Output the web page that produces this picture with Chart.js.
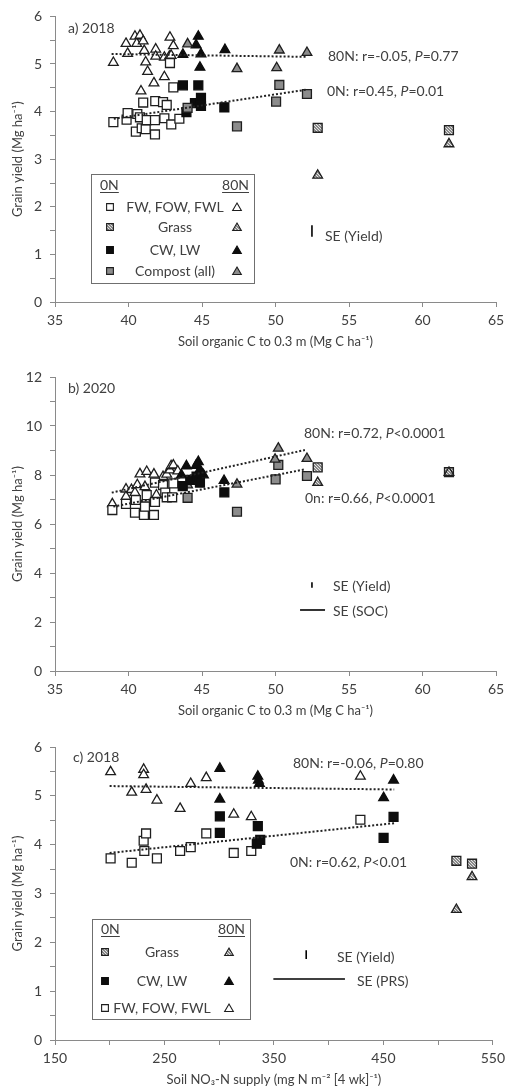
<!DOCTYPE html>
<html>
<head>
<meta charset="utf-8">
<script src="https://cdn.jsdelivr.net/npm/chart.js@4.4.1/dist/chart.umd.min.js"></script>
<style>
  html, body { margin: 0; padding: 0; background: #fff; }
  .panel { position: absolute; left: 0; width: 510px; }
</style>
</head>
<body>
<div class="panel" style="top:0;height:358px"><canvas id="chartA"></canvas></div>
<div class="panel" style="top:360px;height:361px"><canvas id="chartB"></canvas></div>
<div class="panel" style="top:722px;height:367px"><canvas id="chartC"></canvas></div>
<script>
// ---- data: [x, y] pairs ----
// a) 2018, yield vs SOC
const aFw0 = [[38.97,3.78],[39.87,3.83],[39.94,3.97],[40.5,3.58],[40.6,3.95],[40.78,3.88],[40.9,3.65],[41.0,4.19],[41.17,3.63],[41.24,3.82],[41.8,3.52],[41.8,3.82],[41.82,4.22],[42.35,4.2],[42.6,4.14],[42.44,3.86],[42.91,3.73],[43.46,3.85],[43.05,4.51],[42.82,5.02]];
const aFw80 = [[38.97,5.03],[39.83,5.43],[39.94,5.22],[40.44,5.58],[40.56,5.43],[40.78,5.6],[41.0,5.48],[41.07,5.28],[41.17,5.04],[41.3,4.84],[40.85,4.43],[41.73,4.6],[41.85,5.31],[41.85,5.16],[42.44,4.73],[42.82,5.56],[43.05,5.38],[42.44,5.14],[42.78,5.16],[42.9,5.18]];
const aCw0 = [[43.7,4.55],[44.75,4.55],[43.94,3.99],[44.52,4.18],[44.93,4.29],[44.93,4.12],[46.52,4.09]];
const aCw80 = [[43.7,5.2],[44.6,5.4],[44.75,5.58],[44.93,5.21],[44.86,4.93],[46.56,5.3]];
const aComp0 = [[44.02,4.08],[47.38,3.69],[50.26,4.56],[50.04,4.21],[52.14,4.37]];
const aComp80 = [[44.02,5.42],[47.38,4.9],[50.26,5.29],[50.08,4.92],[52.14,5.24]];
const aGrass0 = [[52.87,3.66],[61.8,3.61]];
const aGrass80 = [[52.87,2.66],[61.8,3.32]];
const aTrend80 = [[38.85,5.21],[52.1,5.15]];
const aTrend0 = [[39.0,3.85],[52.1,4.46]];
const aSeYield = [[52.48,1.37],[52.48,1.61]];

// b) 2020, yield vs SOC
const bFw0 = [[38.9,6.57],[39.83,6.82],[40.44,6.46],[40.5,6.98],[41.05,6.37],[41.73,6.37],[41.12,6.71],[41.24,7.18],[41.8,7.69],[41.8,6.9],[42.35,7.59],[42.5,7.28],[42.6,7.09],[42.97,7.09],[43.05,7.66]];
const bFw80 = [[38.9,6.82],[39.83,7.42],[39.83,7.12],[40.2,7.4],[40.44,7.28],[40.6,7.6],[40.78,8.04],[41.12,7.52],[41.17,7.01],[41.24,8.14],[41.73,8.03],[41.9,7.18],[42.35,7.93],[42.6,8.03],[42.82,8.2],[42.9,8.37],[43.05,8.4],[43.35,8.16]];
const bCw0 = [[43.69,7.55],[44.2,7.8],[44.63,7.93],[44.86,7.69],[46.52,7.29]];
const bCw80 = [[43.6,8.0],[43.94,8.37],[44.6,8.39],[44.75,8.54],[44.86,8.22],[45.1,8.0],[46.5,7.77]];
const bComp0 = [[44.02,7.07],[47.38,6.5],[50.19,8.41],[50.01,7.82],[52.14,7.96]];
const bComp80 = [[44.02,7.59],[47.38,7.62],[50.19,9.09],[49.97,8.64],[52.14,8.67]];
const bGrass0 = [[52.87,8.31],[61.8,8.12]];
const bGrass80 = [[52.87,7.69],[61.8,8.1]];
const bTrend80 = [[38.86,7.28],[52.0,9.02]];
const bTrend0 = [[38.97,6.71],[52.0,8.23]];
const bSeYield = [[52.48,3.4],[52.48,3.62]];
const bSeSoc = [[51.67,2.49],[53.37,2.49]];

// c) 2018, yield vs soil NO3-N supply
const cFw0 = [[200.8,3.72],[220.1,3.63],[231.0,4.08],[231.6,3.87],[233.2,4.23],[243.1,3.72],[264.3,3.87],[274.0,3.95],[288.2,4.23],[313.3,3.83],[329.3,3.87],[429.0,4.51]];
const cFw80 = [[200.8,5.49],[220.1,5.07],[231.0,5.54],[231.0,5.43],[233.2,5.13],[243.1,4.91],[264.3,4.74],[274.0,5.25],[288.2,5.37],[313.3,4.62],[329.3,4.57],[429.0,5.4]];
const cCw0 = [[300.6,4.58],[300.6,4.24],[335.3,4.38],[334.4,4.02],[337.5,4.1],[450.2,4.14],[459.3,4.57]];
const cCw80 = [[300.6,5.56],[300.6,4.93],[335.3,5.4],[335.8,5.32],[336.8,5.25],[450.2,4.96],[459.3,5.32]];
const cGrass0 = [[516.7,3.67],[531.0,3.61]];
const cGrass80 = [[531.0,3.34],[516.7,2.67]];
const cTrend80 = [[199.9,5.2],[459.9,5.13]];
const cTrend0 = [[199.9,3.83],[459.9,4.44]];
const cSeYield = [[379.5,1.66],[379.5,1.84]];
const cSePrs = [[349.5,1.25],[414.9,1.25]];

// axis ranges / tick steps
const socRange = [35, 65];
const prsRange = [150, 550];
const yieldRange2018 = [0, 6];
const yieldRange2020 = [0, 12];

// text
const yTitle = 'Grain yield (Mg ha\u207B\u00B9)';
const socTitle = 'Soil organic C to 0.3 m (Mg C ha\u207B\u00B9)';
const prsTitle = 'Soil NO\u2083-N supply (mg N m\u207B\u00B2 [4 wk]\u207B\u00B9)';

// ---- styles ----
const FAMILY = 'Lato, "Open Sans", sans-serif';
const TXT = '#404040';
const AXIS = '#8a8a8a';
const EDGE = '#1e1e1e';

function makeHatch() {
  const c = document.createElement('canvas');
  c.width = 3; c.height = 3;
  const g = c.getContext('2d');
  g.fillStyle = '#8a8a8a'; g.fillRect(0, 0, 3, 3);
  g.fillStyle = '#e4e4e4';
  g.fillRect(0, 0, 1, 1); g.fillRect(1, 1, 1, 1); g.fillRect(2, 2, 1, 1);
  return g.createPattern(c, 'repeat');
}
const hatch = makeHatch();

const OPEN = { fill: '#fff', stroke: EDGE };
const BLACK = { fill: '#0d0d0d', stroke: '#0d0d0d' };
const GRAY = { fill: '#8c8c8c', stroke: EDGE };
const GRASS = { fill: hatch, stroke: EDGE };

const pts = arr => arr.map(([x, y]) => ({ x, y }));

function markers(arr, shape, st) {
  return {
    data: pts(arr),
    pointStyle: shape,
    pointRadius: shape === 'rect' ? 6.3 : 5.6,
    pointHoverRadius: 6,
    backgroundColor: st.fill,
    borderColor: st.stroke,
    borderWidth: 1.3,
    showLine: false,
  };
}

function line(arr, dotted) {
  return {
    data: pts(arr),
    showLine: true,
    pointRadius: 0,
    borderColor: dotted ? '#222' : '#000',
    borderWidth: dotted ? 2 : 1.6,
    borderDash: dotted ? [2, 2] : [],
    fill: false,
  };
}

// text with *italic* segments
function drawRich(ctx, str, x, y, size) {
  const parts = str.split('*');
  ctx.textAlign = 'left';
  parts.forEach((p, i) => {
    ctx.font = (i % 2 ? 'italic ' : '') + size + 'px ' + FAMILY;
    ctx.fillText(p, x, y);
    x += ctx.measureText(p).width;
  });
}

function legendMarker(ctx, shape, st, x, y) {
  ctx.fillStyle = st.fill;
  ctx.strokeStyle = st.stroke;
  ctx.lineWidth = 1.1;
  Chart.helpers.drawPoint(ctx, { pointStyle: shape, radius: shape === 'rect' ? 4.8 : 5, rotation: 0, borderWidth: 1.1 }, x, y);
}

function drawLegend(ctx, lg, ca) {
  const x0 = Math.round(ca.left + lg.dx), y0 = Math.round(ca.top + lg.dy);
  ctx.strokeStyle = '#6f6f6f';
  ctx.lineWidth = 1;
  ctx.strokeRect(x0 + 0.5, y0 + 0.5, lg.w, lg.h);

  ctx.fillStyle = TXT;
  ctx.font = '14px ' + FAMILY;
  ctx.textBaseline = 'middle';
  ctx.textAlign = 'left';
  ctx.fillText('0N', x0 + 9, y0 + lg.headY);
  let w = ctx.measureText('0N').width;
  ctx.fillRect(x0 + 9, y0 + lg.headY + 7, w, 1);
  ctx.textAlign = 'right';
  ctx.fillText('80N', x0 + lg.w - 5, y0 + lg.headY);
  w = ctx.measureText('80N').width;
  ctx.fillRect(x0 + lg.w - 5 - w, y0 + lg.headY + 7, w, 1);

  lg.rows.forEach((r, i) => {
    const y = y0 + lg.rowY[i];
    legendMarker(ctx, 'rect', r.st, x0 + lg.sqX, y);
    legendMarker(ctx, 'triangle', r.st, x0 + lg.triX, y + 1);
    ctx.fillStyle = TXT;
    ctx.textAlign = 'center';
    ctx.fillText(r.label, x0 + lg.textX, y);
  });
}

function decorPlugin(decor) {
  return {
    id: 'decor',
    afterDatasetsDraw(chart) {
      const { ctx, chartArea: ca } = chart;
      ctx.save();
      ctx.fillStyle = TXT;
      ctx.textBaseline = 'middle';
      decor.texts.forEach(t => {
        ctx.fillStyle = TXT;
        drawRich(ctx, t.text, ca.left + t.dx, ca.top + t.dy, t.size || 14);
      });
      if (decor.legend) drawLegend(ctx, decor.legend, ca);
      ctx.restore();
    },
  };
}

function makeChart(id, p) {
  const tickFont = { family: FAMILY, size: 14 };
  return new Chart(document.getElementById(id), {
    type: 'scatter',
    data: { datasets: p.datasets },
    options: {
      responsive: true,
      maintainAspectRatio: false,
      animation: false,
      layout: { padding: { top: p.padTop, right: 14, left: 0, bottom: 0 } },
      plugins: { legend: { display: false }, tooltip: { enabled: false } },
      scales: {
        x: {
          type: 'linear', min: p.xRange[0], max: p.xRange[1],
          ticks: { stepSize: p.xStep, autoSkip: false, maxRotation: 0, color: TXT, font: tickFont, padding: 5, callback: p.xLabel },
          grid: { display: true, drawOnChartArea: false, drawTicks: true, tickLength: 5, color: AXIS },
          border: { color: AXIS, width: 1 },
          title: { display: true, text: p.xTitle, color: TXT, font: { family: FAMILY, size: 13 }, padding: { top: 0, bottom: p.xTitlePad } },
          afterFit: s => { s.height = p.xHeight; },
        },
        y: {
          type: 'linear', min: p.yRange[0], max: p.yRange[1],
          ticks: { stepSize: p.yStep, autoSkip: false, color: TXT, font: tickFont, padding: 8, callback: p.yLabel },
          grid: { display: true, drawOnChartArea: false, drawTicks: true, tickLength: 5, color: AXIS },
          border: { color: AXIS, width: 1 },
          title: { display: true, text: yTitle, color: TXT, font: { family: FAMILY, size: 13 }, padding: { top: 10, bottom: 0 } },
          afterFit: s => { s.width = 55; },
        },
      },
    },
    plugins: [decorPlugin(p.decor)],
  });
}

const everyLabel = v => v;
const intLabel = v => (Number.isInteger(v) ? v : '');
const evenLabel = v => (v % 2 === 0 ? v : '');
const prsLabel = v => ((v - 150) % 100 === 0 ? v : '');

// a) 2018
makeChart('chartA', {
  padTop: 8, xHeight: 56, xTitlePad: 8,
  xRange: socRange, xStep: 5, xLabel: everyLabel, xTitle: socTitle,
  yRange: yieldRange2018, yStep: 0.5, yLabel: intLabel,
  datasets: [
    line(aTrend80, true), line(aTrend0, true), line(aSeYield, false),
    markers(aComp80, 'triangle', GRAY), markers(aComp0, 'rect', GRAY),
    markers(aCw80, 'triangle', BLACK), markers(aCw0, 'rect', BLACK),
    markers(aGrass80, 'triangle', GRASS), markers(aGrass0, 'rect', GRASS),
    markers(aFw0, 'rect', OPEN), markers(aFw80, 'triangle', OPEN),
  ],
  decor: {
    texts: [
      { text: 'a) 2018', dx: 13, dy: 12 },
      { text: '80N: r=-0.05, *P*=0.77', dx: 273, dy: 40 },
      { text: '0N: r=0.45, *P*=0.01', dx: 272, dy: 75 },
      { text: 'SE (Yield)', dx: 270, dy: 220 },
    ],
    legend: {
      dx: 36, dy: 158, w: 163, h: 109, headY: 11,
      sqX: 19, triX: 146, textX: 84, rowY: [33, 53, 76, 97],
      rows: [
        { label: 'FW, FOW, FWL', st: OPEN },
        { label: 'Grass', st: GRASS },
        { label: 'CW, LW', st: BLACK },
        { label: 'Compost (all)', st: GRAY },
      ],
    },
  },
});

// b) 2020
makeChart('chartB', {
  padTop: 17, xHeight: 50, xTitlePad: 2,
  xRange: socRange, xStep: 5, xLabel: everyLabel, xTitle: socTitle,
  yRange: yieldRange2020, yStep: 1, yLabel: evenLabel,
  datasets: [
    line(bTrend80, true), line(bTrend0, true), line(bSeYield, false), line(bSeSoc, false),
    markers(bCw80, 'triangle', BLACK), markers(bCw0, 'rect', BLACK),
    markers(bGrass80, 'triangle', GRASS), markers(bGrass0, 'rect', GRASS),
    markers(bComp80, 'triangle', GRAY), markers(bComp0, 'rect', GRAY),
    markers(bFw0, 'rect', OPEN), markers(bFw80, 'triangle', OPEN),
  ],
  decor: {
    texts: [
      { text: 'b) 2020', dx: 13, dy: 11 },
      { text: '80N: r=0.72, *P*<0.0001', dx: 249, dy: 56 },
      { text: '0n: r=0.66, *P*<0.0001', dx: 250, dy: 121 },
      { text: 'SE (Yield)', dx: 278, dy: 209 },
      { text: 'SE (SOC)', dx: 278, dy: 234 },
    ],
  },
});

// c) 2018 vs PRS nitrate supply
makeChart('chartC', {
  padTop: 25, xHeight: 49, xTitlePad: 1,
  xRange: prsRange, xStep: 50, xLabel: prsLabel, xTitle: prsTitle,
  yRange: yieldRange2018, yStep: 0.5, yLabel: intLabel,
  datasets: [
    line(cTrend80, true), line(cTrend0, true), line(cSeYield, false), line(cSePrs, false),
    markers(cCw80, 'triangle', BLACK), markers(cCw0, 'rect', BLACK),
    markers(cGrass80, 'triangle', GRASS), markers(cGrass0, 'rect', GRASS),
    markers(cFw0, 'rect', OPEN), markers(cFw80, 'triangle', OPEN),
  ],
  decor: {
    texts: [
      { text: 'c) 2018', dx: 18, dy: 10 },
      { text: '80N: r=-0.06, *P*=0.80', dx: 238, dy: 16 },
      { text: '0N: r=0.62, *P*<0.01', dx: 235, dy: 115 },
      { text: 'SE (Yield)', dx: 282, dy: 210 },
      { text: 'SE (PRS)', dx: 302, dy: 234 },
    ],
    legend: {
      dx: 37, dy: 172, w: 158, h: 100, headY: 10,
      sqX: 13, triX: 137, textX: 70, rowY: [33, 62, 89],
      rows: [
        { label: 'Grass', st: GRASS },
        { label: 'CW, LW', st: BLACK },
        { label: 'FW, FOW, FWL', st: OPEN },
      ],
    },
  },
});
</script>
</body>
</html>
